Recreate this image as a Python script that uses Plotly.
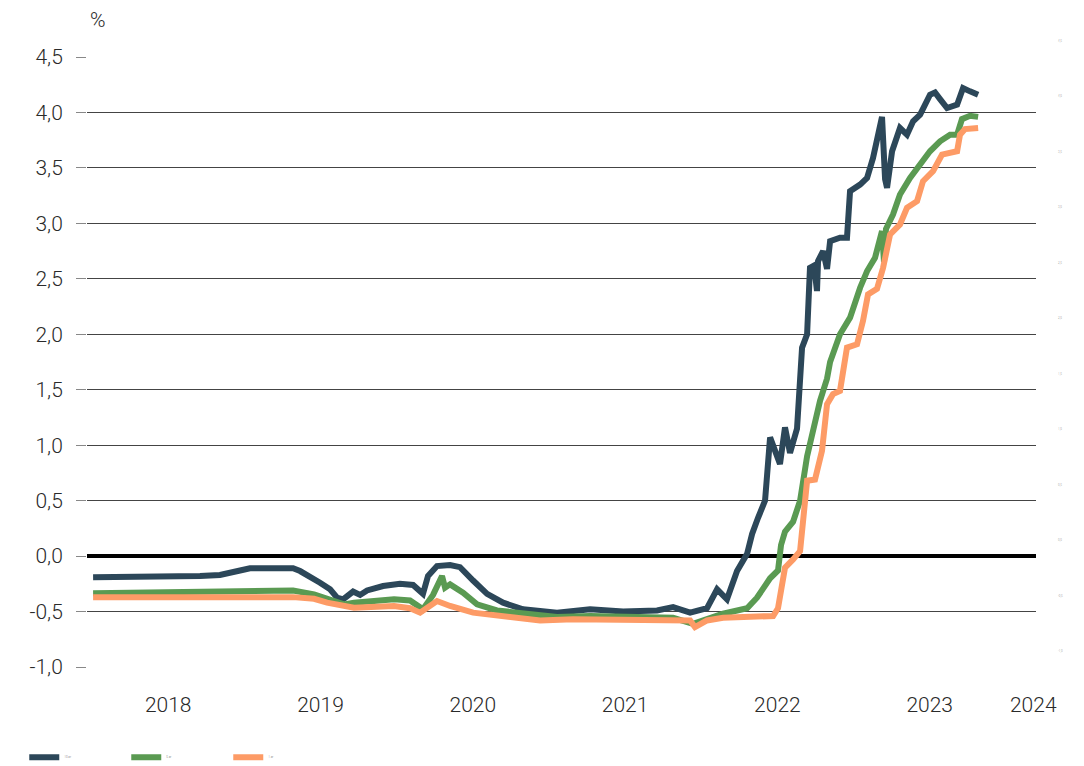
import plotly.graph_objects as go

# x values are decimal years
dark_x = [2018.007, 2018.250, 2018.512, 2018.709, 2018.840, 2018.926, 2018.972, 2019.037, 2019.320, 2019.366,
          2019.431, 2019.497, 2019.563, 2019.609, 2019.648, 2019.694, 2019.714, 2019.760, 2019.806, 2019.911,
          2020.022, 2020.108, 2020.154, 2020.173, 2020.206, 2020.265, 2020.351, 2020.416, 2020.502, 2020.594,
          2020.699, 2020.830, 2021.053, 2021.270, 2021.487, 2021.710, 2021.815, 2021.927, 2022.038, 2022.104,
          2022.169, 2022.235, 2022.301, 2022.334, 2022.373, 2022.419, 2022.452, 2022.498, 2022.517, 2022.550,
          2022.583, 2022.629, 2022.662, 2022.695, 2022.714, 2022.741, 2022.760, 2022.767, 2022.800, 2022.826,
          2022.846, 2022.911, 2022.957, 2022.977, 2023.043, 2023.089, 2023.128, 2023.187, 2023.207, 2023.220,
          2023.253, 2023.305, 2023.351, 2023.391, 2023.437, 2023.502, 2023.535, 2023.568, 2023.614, 2023.680,
          2023.719, 2023.765, 2023.818]
dark_y = [-0.19, -0.19, -0.19, -0.18, -0.17, -0.15, -0.13, -0.11, -0.11, -0.135,
          -0.18, -0.24, -0.30, -0.375, -0.39, -0.34, -0.32, -0.35, -0.31, -0.27,
          -0.25, -0.26, -0.32, -0.34, -0.18, -0.09, -0.08, -0.10, -0.22, -0.34,
          -0.42, -0.48, -0.51, -0.48, -0.50, -0.49, -0.46, -0.51, -0.47, -0.30,
          -0.39, -0.135, 0.02, 0.20, 0.345, 0.50, 1.07, 0.90, 0.83, 1.16,
          0.93, 1.15, 1.88, 2.00, 2.60, 2.62, 2.39, 2.66, 2.75, 2.59,
          2.84, 2.87, 2.87, 3.29, 3.35, 3.41, 3.59, 3.96, 3.40, 3.32,
          3.65, 3.86, 3.80, 3.92, 3.98, 4.16, 4.18, 4.12, 4.04, 4.07,
          4.22, 4.19, 4.16]

green_x = [2018.007, 2018.840, 2018.952, 2019.320, 2019.458, 2019.563, 2019.655, 2019.720, 2019.852, 2019.983,
           2020.088, 2020.173, 2020.239, 2020.298, 2020.318, 2020.351, 2020.436, 2020.528, 2020.659, 2020.830,
           2021.053, 2021.270, 2021.487, 2021.815, 2021.946, 2022.038, 2022.143, 2022.301, 2022.366, 2022.452,
           2022.504, 2022.524, 2022.550, 2022.603, 2022.649, 2022.695, 2022.734, 2022.780, 2022.826, 2022.846,
           2022.911, 2022.977, 2023.043, 2023.089, 2023.141, 2023.187, 2023.200, 2023.213, 2023.259, 2023.305,
           2023.371, 2023.437, 2023.502, 2023.568, 2023.634, 2023.680, 2023.712, 2023.765, 2023.818]
green_y = [-0.335, -0.32, -0.315, -0.31, -0.345, -0.39, -0.435, -0.42, -0.405, -0.39,
           -0.40, -0.48, -0.35, -0.18, -0.285, -0.255, -0.33, -0.435, -0.49, -0.52,
           -0.55, -0.54, -0.55, -0.556, -0.61, -0.57, -0.52, -0.47, -0.375, -0.20,
           -0.13, 0.10, 0.22, 0.31, 0.50, 0.90, 1.13, 1.40, 1.60, 1.75,
           2.00, 2.15, 2.42, 2.57, 2.69, 2.93, 2.65, 2.95, 3.08, 3.26,
           3.41, 3.53, 3.65, 3.74, 3.80, 3.80, 3.94, 3.97, 3.96]

orange_x = [2018.007, 2019.320, 2019.458, 2019.543, 2019.720, 2019.852, 2019.983, 2020.088, 2020.154, 2020.265,
            2020.351, 2020.502, 2020.725, 2020.942, 2021.158, 2021.487, 2021.815, 2021.927, 2021.959, 2022.038,
            2022.143, 2022.301, 2022.472, 2022.504, 2022.550, 2022.603, 2022.649, 2022.695, 2022.747, 2022.793,
            2022.826, 2022.865, 2022.911, 2022.957, 2023.023, 2023.062, 2023.095, 2023.154, 2023.194, 2023.240,
            2023.305, 2023.351, 2023.417, 2023.456, 2023.522, 2023.581, 2023.680, 2023.699, 2023.732, 2023.818]
orange_y = [-0.37, -0.37, -0.385, -0.42, -0.465, -0.46, -0.45, -0.47, -0.51, -0.405,
            -0.45, -0.51, -0.54, -0.58, -0.57, -0.57, -0.57, -0.58, -0.64, -0.58,
            -0.556, -0.55, -0.54, -0.47, -0.105, -0.03, 0.045, 0.68, 0.69, 0.95,
            1.37, 1.46, 1.49, 1.88, 1.91, 2.12, 2.36, 2.41, 2.60, 2.90,
            2.99, 3.14, 3.20, 3.38, 3.47, 3.62, 3.65, 3.80, 3.85, 3.86]

series_names = ["10 år", "5 år", "1 år"]
series_colors = ["#2c4759", "#5a9a52", "#fd9b66"]

y_ticks = [-1.0, -0.5, 0.0, 0.5, 1.0, 1.5, 2.0, 2.5, 3.0, 3.5, 4.0, 4.5]
y_ticktext = ["-1,0", "-0,5", "0,0", "0,5", "1,0", "1,5", "2,0", "2,5", "3,0", "3,5", "4,0", "4,5"]
x_tickvals = [2018.5, 2019.5, 2020.5, 2021.5, 2022.5, 2023.5, 2024.18]
x_ticktext = ["2018", "2019", "2020", "2021", "2022", "2023", "2024"]

fig = go.Figure()
for xs, ys, name, col in zip([dark_x, green_x, orange_x], [dark_y, green_y, orange_y],
                             series_names, series_colors):
    fig.add_trace(go.Scatter(x=xs, y=ys, mode="lines", name=name,
                             line=dict(color=col, width=6)))

font_family = "Roboto, Noto Sans, sans-serif"
txt_color = "#2a2a2a"

fig.update_layout(
    width=1084, height=766,
    margin=dict(l=79, r=56, t=49, b=107, autoexpand=False),
    plot_bgcolor="white", paper_bgcolor="white",
    font=dict(family=font_family, size=21, color=txt_color, weight=300),
    showlegend=True,
    legend=dict(orientation="h", xref="container", yref="container",
                x=0.015, xanchor="left", y=0.022, yanchor="middle",
                font=dict(size=3, color="#666666"), itemwidth=30,
                entrywidth=57, entrywidthmode="pixels", traceorder="normal"),
    xaxis=dict(range=[2017.967, 2024.198], tickvals=x_tickvals, ticktext=x_ticktext,
               showgrid=False, zeroline=False, showline=False, ticks="",
               ticklabelstandoff=23,
               tickfont=dict(size=21, color=txt_color, weight=300)),
    yaxis=dict(range=[-1.0, 4.5], tickvals=y_ticks, ticktext=y_ticktext,
               showgrid=True, gridcolor="#444444", gridwidth=1,
               zeroline=True, zerolinecolor="#000000", zerolinewidth=3.5,
               ticks="outside", ticklen=10, tickcolor="#888888", tickwidth=1,
               ticklabelstandoff=9, showline=False,
               tickfont=dict(size=21, color=txt_color, weight=300)),
)

fig.add_annotation(text="%", xref="paper", yref="paper", x=0.012, y=1.0, yshift=23,
                   xanchor="center", yanchor="bottom", showarrow=False,
                   font=dict(size=21, color=txt_color, weight=300))

for v, t in zip(y_ticks, y_ticktext):
    fig.add_annotation(text=t, xref="paper", yref="y",
                       x=1.0, xshift=24, y=v, yshift=16, showarrow=False,
                       xanchor="center", yanchor="middle",
                       font=dict(size=3, color="#888888"))

fig.write_html("out.html")
